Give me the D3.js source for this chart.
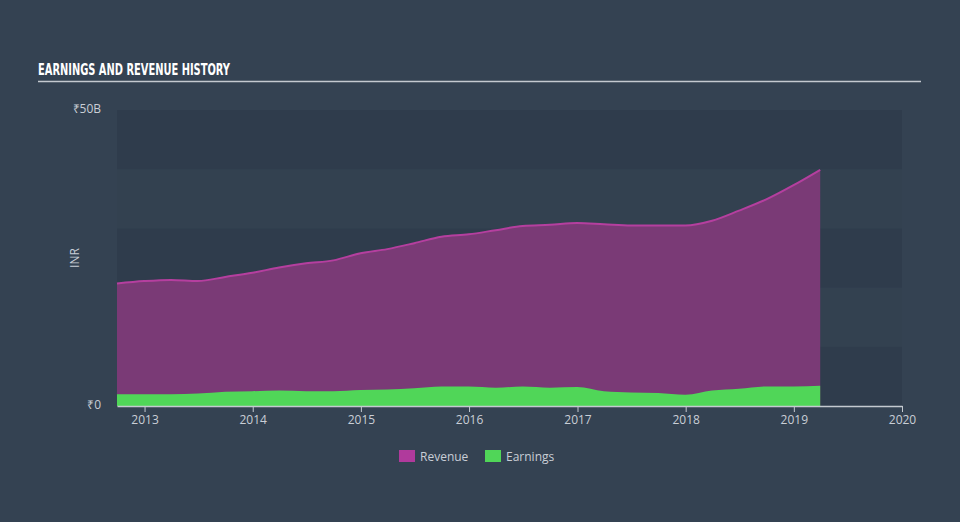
<!DOCTYPE html>
<html>
<head>
<meta charset="utf-8">
<script src="https://cdn.jsdelivr.net/npm/d3@7"></script>
<style>
  body { margin: 0; background: #344252; }
  svg { display: block; }
  .axisText { fill: #c9ced6; font-family: "Open Sans", sans-serif; font-size: 12px; }
</style>
</head>
<body>
<script>
(function () {

    //quarter end dates and values (billions INR)
    var dates = ["2012-09-30", "2012-12-31", "2013-03-31", "2013-06-30", "2013-09-30", "2013-12-31",
        "2014-03-31", "2014-06-30", "2014-09-30", "2014-12-31", "2015-03-31", "2015-06-30",
        "2015-09-30", "2015-12-31", "2016-03-31", "2016-06-30", "2016-09-30", "2016-12-31",
        "2017-03-31", "2017-06-30", "2017-09-30", "2017-12-31", "2018-03-31", "2018-06-30",
        "2018-09-30", "2018-12-31", "2019-03-31"];
    var revenue = [20.7, 21.1, 21.3, 21.1, 21.8, 22.5, 23.4, 24.1, 24.6, 25.8, 26.5, 27.5,
        28.6, 29.0, 29.7, 30.4, 30.6, 30.9, 30.7, 30.5, 30.5, 30.5, 31.3, 33.0, 34.9, 37.3, 39.9];
    var earnings = [2.0, 2.0, 2.0, 2.1, 2.4, 2.5, 2.6, 2.5, 2.5, 2.7, 2.8, 3.0,
        3.3, 3.3, 3.1, 3.3, 3.1, 3.2, 2.5, 2.3, 2.2, 1.9, 2.6, 2.9, 3.3, 3.3, 3.4];
    var yearTicks = [2013, 2014, 2015, 2016, 2017, 2018, 2019, 2020];
    var yTicks = [0, 50];
    var yTickLabels = ["₹0", "₹50B"];
    var seriesNames = ["Revenue", "Earnings"];

    var width = 960, height = 522;
    var left = 117, right = 902, top = 110, bottom = 406;

    var parse = d3.timeParse("%Y-%m-%d");
    var rows = dates.map(function (d, i) {
        return { date: parse(d), rev: revenue[i], earn: earnings[i] };
    });

    var svg = d3.select("body").append("svg")
        .attr("width", width)
        .attr("height", height);

    //title and rule
    svg.append("text")
        .attr("x", 38)
        .attr("y", 75)
        .attr("fill", "#ffffff")
        .attr("textLength", 192)
        .attr("lengthAdjust", "spacingAndGlyphs")
        .style("font-family", "'DejaVu Sans Condensed', 'Liberation Sans Narrow', sans-serif")
        .style("font-weight", "bold")
        .style("font-size", "16px")
        .text("EARNINGS AND REVENUE HISTORY");
    svg.append("line")
        .attr("x1", 38).attr("x2", 921)
        .attr("y1", 81.5).attr("y2", 81.5)
        .attr("stroke", "#c4c9d0")
        .attr("stroke-width", 1.5);

    var x = d3.scaleTime()
        .domain([parse("2012-09-30"), new Date(2020, 0, 1)])
        .range([left, right]);
    var y = d3.scaleLinear()
        .domain([0, 50])
        .range([bottom, top]);

    //background bands
    var bands = d3.range(0, 50, 10);
    svg.selectAll(".band")
        .data(bands)
        .enter()
        .append("rect")
        .attr("class", "band")
        .attr("x", left)
        .attr("width", right - left)
        .attr("y", function (d) { return y(d + 10); })
        .attr("height", function (d) { return y(d) - y(d + 10); })
        .attr("fill", function (d, i) { return i % 2 === 0 ? "#2f3c4c" : "#334150"; });

    //revenue area
    var revArea = d3.area()
        .x(function (d) { return x(d.date); })
        .y0(y(0))
        .y1(function (d) { return y(d.rev); })
        .curve(d3.curveMonotoneX);
    svg.append("path")
        .datum(rows)
        .attr("d", revArea)
        .attr("fill", "#7a3a76");
    svg.append("path")
        .datum(rows)
        .attr("d", revArea.lineY1())
        .attr("fill", "none")
        .attr("stroke", "#b53f9f")
        .attr("stroke-width", 2);

    //earnings area
    var earnArea = d3.area()
        .x(function (d) { return x(d.date); })
        .y0(y(0))
        .y1(function (d) { return y(d.earn); })
        .curve(d3.curveMonotoneX);
    svg.append("path")
        .datum(rows)
        .attr("d", earnArea)
        .attr("fill", "#50d658");

    //x axis
    var xAxis = svg.append("g")
        .attr("transform", "translate(0," + bottom + ")")
        .call(d3.axisBottom(x)
            .tickValues(yearTicks.map(function (yr) { return new Date(yr, 0, 1); }))
            .tickFormat(d3.timeFormat("%Y"))
            .tickSize(6)
            .tickSizeOuter(0));
    xAxis.select(".domain").attr("stroke", "#c4c9d0").attr("stroke-width", 1.5);
    xAxis.selectAll(".tick line").attr("stroke", "#c4c9d0");
    xAxis.selectAll(".tick text")
        .attr("class", "axisText")
        .attr("fill", null)
        .attr("y", 9)
        .attr("dy", "0.71em");
    xAxis.attr("font-size", null).attr("font-family", null);

    //y labels
    svg.selectAll(".ylab")
        .data(yTicks)
        .enter()
        .append("text")
        .attr("class", "axisText")
        .attr("text-anchor", "end")
        .attr("x", 101)
        .attr("y", function (d) { return y(d) + 3; })
        .text(function (d, i) { return yTickLabels[i]; });

    svg.append("text")
        .attr("class", "axisText")
        .attr("text-anchor", "middle")
        .attr("transform", "translate(79,258) rotate(-90)")
        .text("INR");

    //legend
    var legendX = [399, 485];
    var legendColors = ["#b03a9c", "#50d658"];
    var legend = svg.selectAll(".legend")
        .data(seriesNames)
        .enter()
        .append("g")
        .attr("transform", function (d, i) { return "translate(" + legendX[i] + ",450)"; });
    legend.append("rect")
        .attr("width", 16)
        .attr("height", 12)
        .attr("fill", function (d, i) { return legendColors[i]; });
    legend.append("text")
        .attr("class", "axisText")
        .attr("x", 21)
        .attr("y", 10.5)
        .text(function (d) { return d; });

})();
</script>
</body>
</html>
